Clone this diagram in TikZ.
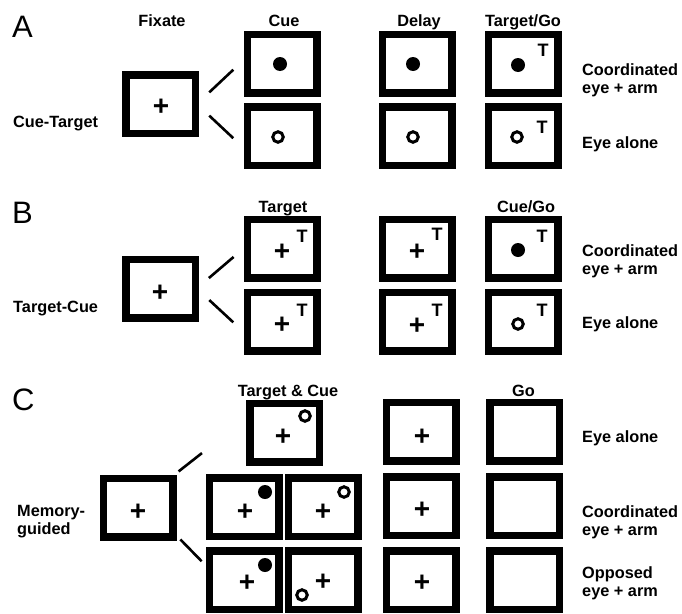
\documentclass[tikz,border=0pt]{standalone}
\usepackage{fontspec}
\setmainfont{Liberation Sans}
\begin{document}
\begin{tikzpicture}[x=1pt, y=-1pt,
  scr/.style={draw, line width=7.5pt, minimum width=69.5pt, minimum height=58.5pt, inner sep=0pt},
  fixc/.style={font=\bfseries\fontsize{28}{28}\selectfont, inner sep=0pt},
  dot/.style={circle, fill, minimum size=14pt, inner sep=0pt},
  ring/.style={circle, draw, line width=3pt, minimum size=10.5pt, inner sep=0pt},
  tmark/.style={font=\bfseries\fontsize{18}{18}\selectfont, inner sep=0pt},
  hdr/.style={font=\bfseries\fontsize{16.3}{18}\selectfont, anchor=base, inner sep=0pt},
  lbl/.style={font=\bfseries\fontsize{16.3}{18}\selectfont, align=left, anchor=north west, inner sep=0pt},
  lbl1/.style={font=\bfseries\fontsize{16.3}{18}\selectfont, anchor=base west, inner sep=0pt},
  panel/.style={font=\fontsize{31}{31}\selectfont, anchor=base west, inner sep=0pt},
  link/.style={line width=2.6pt}
]
\useasboundingbox (0,0) rectangle (682,613);

% A
\node[panel] (lA) at (12,37) {A};
\node[hdr] (hA0) at (162,26) {Fixate};
\node[hdr] (hA1) at (284,26) {Cue};
\node[hdr] (hA2) at (419,26) {Delay};
\node[hdr] (hA3) at (523,26) {Target/Go};
\node[lbl1] (nA) at (13,127) {Cue-Target};
\node[scr] (fixA) at (160.5,104) {};
\node[scr] (cueA1) at (282,63.5) {};
\node[scr] (cueA2) at (282,136) {};
\node[scr] (delA1) at (417,63.5) {};
\node[scr] (delA2) at (417,136) {};
\node[scr] (goA1) at (523,63.5) {};
\node[scr] (goA2) at (523,136) {};
\node[fixc] (pA) at (161,107) {+};
\node[dot] (dA1) at (280,64) {};
\node[ring] (rA1) at (278,137) {};
\node[dot] (dA2) at (413,64) {};
\node[ring] (rA2) at (413,137) {};
\node[dot] (dA3) at (518,65) {};
\node[tmark] (tA1) at (543,50) {T};
\node[ring] (rA3) at (517,137) {};
\node[tmark] (tA2) at (542,127) {T};
\node[lbl] (cA) at (582,63) {Coordinated\\eye + arm};
\node[lbl1] (eA) at (582,148) {Eye alone};
\draw[link, shorten <=14pt, shorten >=14pt] (fixA.3) -- (cueA1.175);
\draw[link, shorten <=14pt, shorten >=14pt] (fixA.-3) -- (cueA2.197);

% B
\node[panel] (lB) at (12,223) {B};
\node[hdr] (hB1) at (283,212) {Target};
\node[hdr] (hB3) at (526,212) {Cue/Go};
\node[lbl1] (nB) at (13,312) {Target-Cue};
\node[scr] (fixB) at (160.5,288.5) {};
\node[scr] (tgtB1) at (282,248.5) {};
\node[scr] (tgtB2) at (282,321.5) {};
\node[scr] (delB1) at (417,248.5) {};
\node[scr] (delB2) at (417,321.5) {};
\node[scr] (goB1) at (523,248.5) {};
\node[scr] (goB2) at (523,321.5) {};
\node[fixc] (pB0) at (160,293) {+};
\node[fixc] (pB1) at (282,252) {+};
\node[tmark] (tB1) at (302,236) {T};
\node[fixc] (pB2) at (282,325) {+};
\node[tmark] (tB2) at (302,310) {T};
\node[fixc] (pB3) at (417,252) {+};
\node[tmark] (tB3) at (437,234) {T};
\node[fixc] (pB4) at (417,326) {+};
\node[tmark] (tB4) at (437,310) {T};
\node[dot] (dB) at (518,250) {};
\node[tmark] (tB5) at (542,236) {T};
\node[ring] (rB) at (518,324) {};
\node[tmark] (tB6) at (542,310) {T};
\node[lbl] (cB) at (582,244) {Coordinated\\eye + arm};
\node[lbl1] (eB) at (582,328) {Eye alone};
\draw[link, shorten <=13pt, shorten >=13pt] (fixB.3) -- (tgtB1.west);
\draw[link, shorten <=14pt, shorten >=14pt] (fixB.-3) -- (tgtB2.195);

% C
\node[panel] (lC) at (12,410) {C};
\node[hdr] (hC1) at (288,396) {Target \& Cue};
\node[hdr] (hC3) at (523.5,396) {Go};
\node[lbl] (nC) at (17,505) {Memory-\\guided};
\node[scr] (fixC) at (138,507.5) {};
\node[scr] (tcC) at (284.5,432.5) {};
\node[scr] (memC1) at (244,507) {};
\node[scr] (memC2) at (323,507) {};
\node[scr] (oppC1) at (244,580) {};
\node[scr] (oppC2) at (323,580) {};
\node[scr] (delC1) at (421,431.5) {};
\node[scr] (delC2) at (421,506) {};
\node[scr] (delC3) at (421,580) {};
\node[scr] (goC1) at (524.5,431.5) {};
\node[scr] (goC2) at (524.5,506) {};
\node[scr] (goC3) at (524.5,580) {};
\node[fixc] (pC0) at (138,512) {+};
\node[fixc] (pC1) at (283,437) {+};
\node[ring] (rC1) at (305,416) {};
\node[fixc] (pC2) at (245,512) {+};
\node[dot] (dC2) at (265,492) {};
\node[fixc] (pC3) at (323,512) {+};
\node[ring] (rC3) at (344,492) {};
\node[fixc] (pC4) at (247,583) {+};
\node[dot] (dC4) at (265,565) {};
\node[fixc] (pC5) at (323,582) {+};
\node[ring] (rC5) at (302,595) {};
\node[fixc] (pC6) at (422,437) {+};
\node[fixc] (pC7) at (422,510) {+};
\node[fixc] (pC8) at (422,583) {+};
\node[lbl1] (eC) at (582,442) {Eye alone};
\node[lbl] (cC) at (582,505) {Coordinated\\eye + arm};
\node[lbl] (oC) at (582,566) {Opposed\\eye + arm};
\draw[link, shorten <=5pt, shorten >=56pt] (fixC.42) -- (tcC.160);
\draw[link, shorten <=5.5pt, shorten >=5.5pt] (fixC.-36) -- (oppC1.159);
\end{tikzpicture}
\end{document}
